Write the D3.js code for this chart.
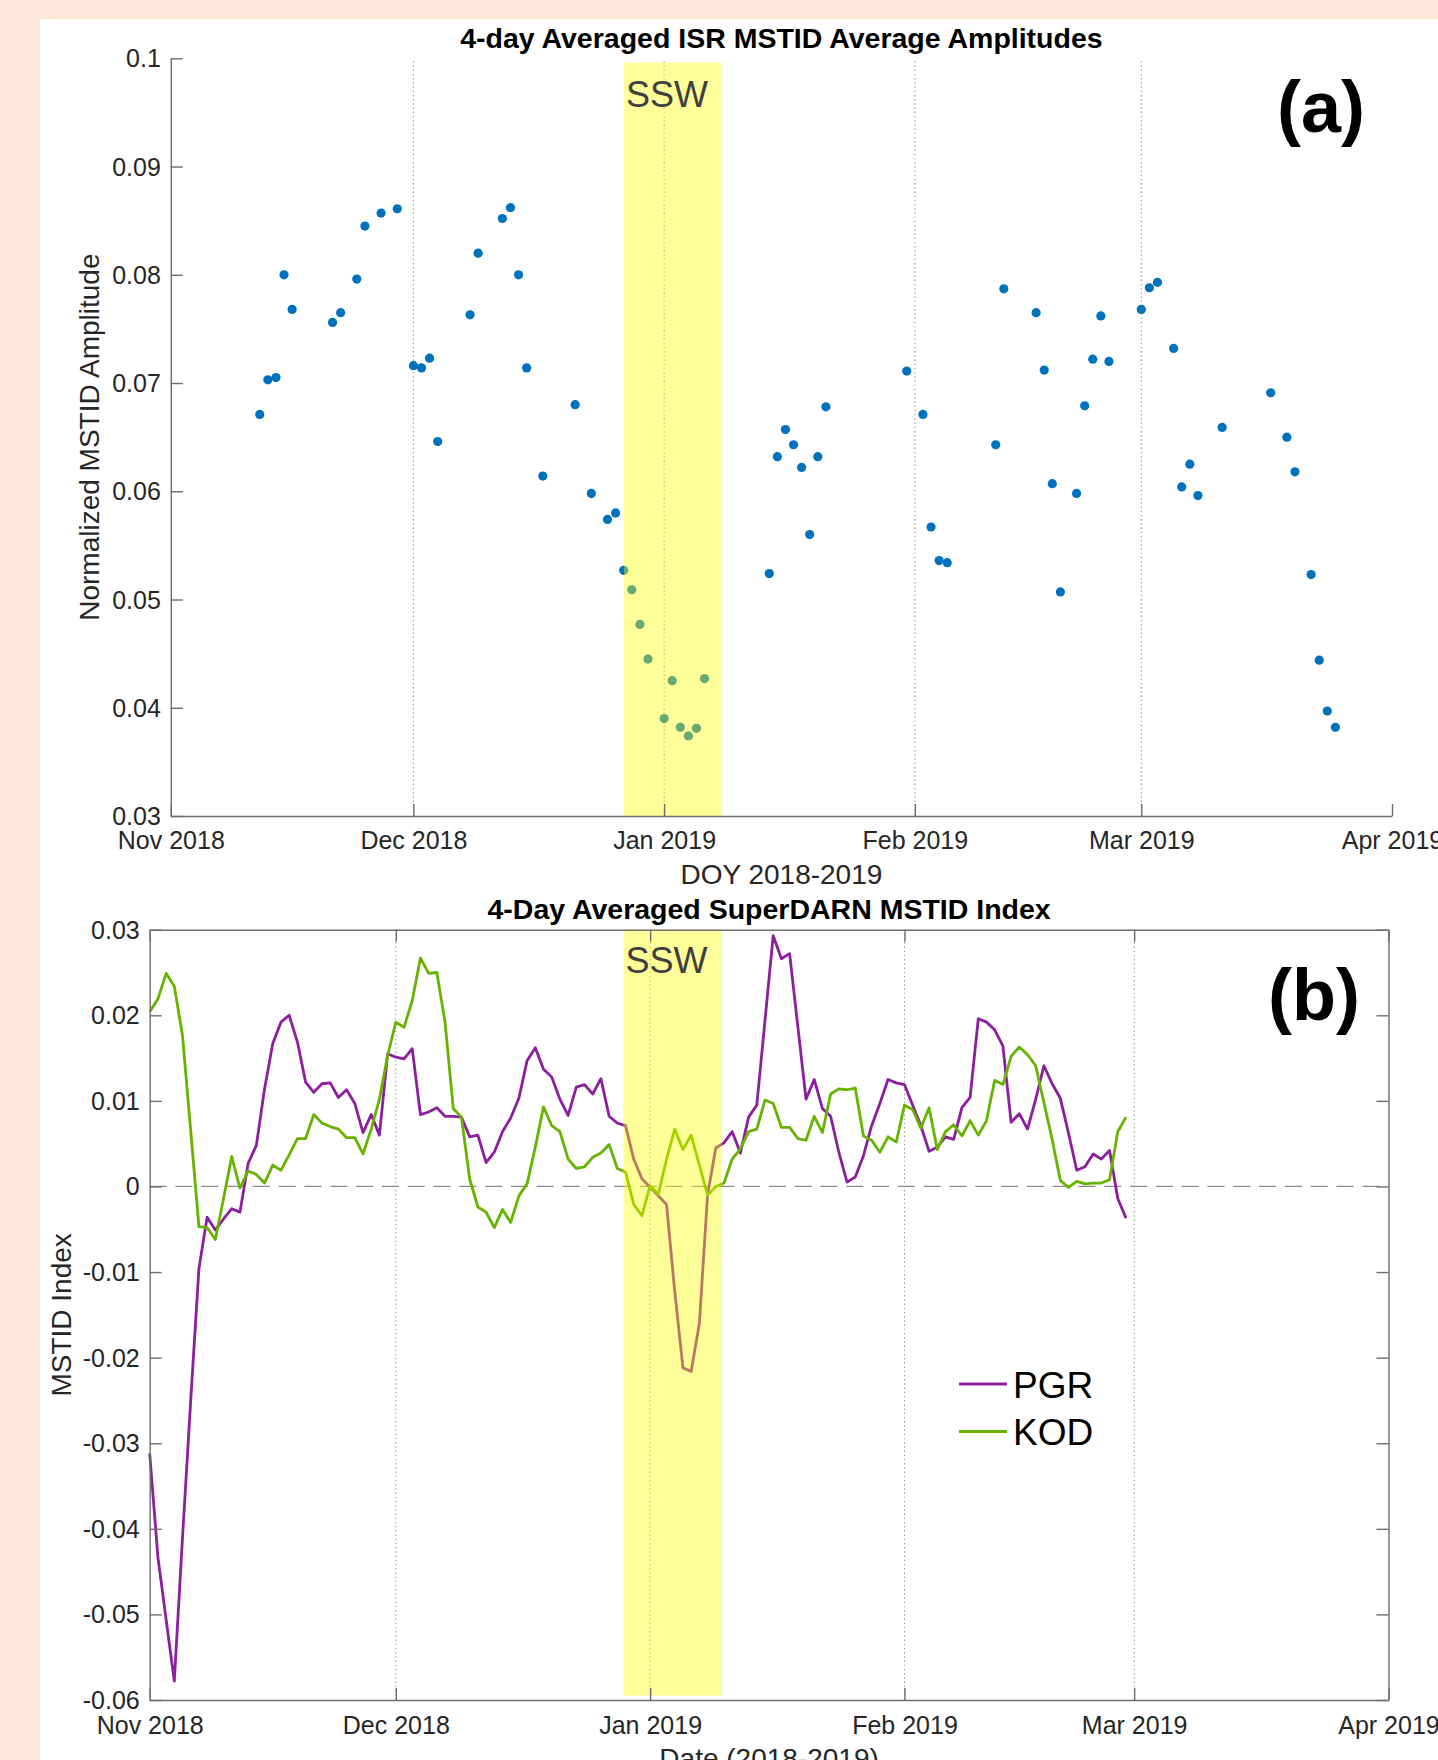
<!DOCTYPE html>
<html>
<head>
<meta charset="utf-8">
<script src="https://cdn.jsdelivr.net/npm/d3@7"></script>
<style>
  body { margin: 0; background: #fde6d8; }
  svg { display: block; font-family: "Liberation Sans", Arial, Helvetica, sans-serif; }
  .tick text { fill: #262626; }
</style>
</head>
<body>
<svg id="fig" width="1438" height="1760"></svg>
<script>
// ---- panel (a): ISR MSTID amplitudes (one dot per day)
const isrDates = [
  "2018-11-12","2018-11-13","2018-11-14","2018-11-15","2018-11-16",
  "2018-11-21","2018-11-22","2018-11-24","2018-11-25","2018-11-27","2018-11-29",
  "2018-12-01","2018-12-02","2018-12-03","2018-12-04","2018-12-08","2018-12-09",
  "2018-12-12","2018-12-13","2018-12-14","2018-12-15","2018-12-17","2018-12-21",
  "2018-12-23","2018-12-25","2018-12-26","2018-12-27","2018-12-28","2018-12-29","2018-12-30",
  "2019-01-01","2019-01-02","2019-01-03","2019-01-04","2019-01-05","2019-01-06",
  "2019-01-14","2019-01-15","2019-01-16","2019-01-17","2019-01-18","2019-01-19","2019-01-20","2019-01-21",
  "2019-01-31","2019-02-02","2019-02-03","2019-02-04","2019-02-05",
  "2019-02-11","2019-02-12","2019-02-16","2019-02-17","2019-02-18","2019-02-19",
  "2019-02-21","2019-02-22","2019-02-23","2019-02-24","2019-02-25",
  "2019-03-01","2019-03-02","2019-03-03","2019-03-05","2019-03-06","2019-03-07","2019-03-08",
  "2019-03-11","2019-03-17","2019-03-19","2019-03-20","2019-03-22","2019-03-23","2019-03-24","2019-03-25"
];
const isrAmp = [
  0.0671,0.0703,0.0705,0.0800,0.0768,
  0.0756,0.0765,0.0796,0.0845,0.0857,0.0861,
  0.0716,0.0714,0.0723,0.0646,0.0763,0.0820,
  0.0852,0.0862,0.0800,0.0714,0.0614,0.0680,
  0.0598,0.0574,0.0580,0.0527,0.0509,0.0477,0.0445,
  0.0390,0.0425,0.0382,0.0374,0.0381,0.0427,
  0.0524,0.0632,0.0657,0.0643,0.0622,0.0560,0.0632,0.0678,
  0.0711,0.0671,0.0567,0.0536,0.0534,
  0.0643,0.0787,0.0765,0.0712,0.0607,0.0507,
  0.0598,0.0679,0.0722,0.0762,0.0720,
  0.0768,0.0788,0.0793,0.0732,0.0604,0.0625,0.0596,
  0.0659,0.0691,0.0650,0.0618,0.0523,0.0444,0.0397,0.0382
];
const isrTicks = [0.03, 0.04, 0.05, 0.06, 0.07, 0.08, 0.09, 0.1];
const sswA = ["2018-12-27T01:00", "2019-01-08T04:00"];

// ---- panel (b): SuperDARN MSTID index, daily from sdStart
const sdStart = "2018-11-01";
const pgr = [
  -0.0312,-0.0433,-0.0506,-0.0578,-0.0410,-0.0250,-0.0096,-0.0036,-0.0051,-0.0038,
  -0.0026,-0.0030,0.0027,0.0048,0.0114,0.0167,0.0192,0.0200,0.0169,0.0122,
  0.0110,0.0120,0.0121,0.0104,0.0113,0.0097,0.0063,0.0084,0.0060,0.0155,
  0.0151,0.0149,0.0161,0.0084,0.0087,0.0092,0.0082,0.0082,0.0081,0.0058,
  0.0060,0.0028,0.0040,0.0064,0.0080,0.0103,0.0147,0.0162,0.0137,0.0128,
  0.0102,0.0083,0.0116,0.0119,0.0108,0.0126,0.0082,0.0074,0.0071,0.0032,
  0.0009,-0.0001,-0.0011,-0.0021,-0.0123,-0.0212,-0.0216,-0.0160,-0.0010,0.0045,
  0.0051,0.0064,0.0039,0.0081,0.0095,0.0194,0.0293,0.0266,0.0272,0.0187,
  0.0102,0.0125,0.0091,0.0082,0.0040,0.0005,0.0011,0.0036,0.0071,0.0097,
  0.0125,0.0121,0.0119,0.0095,0.0071,0.0041,0.0046,0.0058,0.0055,0.0092,
  0.0104,0.0196,0.0192,0.0183,0.0164,0.0075,0.0085,0.0067,0.0102,0.0141,
  0.0120,0.0103,0.0062,0.0019,0.0023,0.0038,0.0032,0.0042,-0.0014,-0.0037
];
const kod = [
  0.0204,0.0219,0.0249,0.0234,0.0176,0.0065,-0.0047,-0.0048,-0.0062,-0.0014,
  0.0035,-0.0002,0.0018,0.0014,0.0004,0.0025,0.0019,0.0037,0.0056,0.0056,
  0.0084,0.0074,0.0070,0.0067,0.0057,0.0057,0.0038,0.0067,0.0102,0.0153,
  0.0192,0.0186,0.0217,0.0267,0.0249,0.0250,0.0192,0.0091,0.0081,0.0009,
  -0.0024,-0.0030,-0.0048,-0.0027,-0.0042,-0.0011,0.0003,0.0046,0.0093,0.0071,
  0.0064,0.0032,0.0021,0.0023,0.0034,0.0039,0.0049,0.0021,0.0017,-0.0021,
  -0.0034,0.0001,-0.0009,0.0032,0.0067,0.0043,0.0060,0.0025,-0.0010,0.0000,
  0.0004,0.0032,0.0044,0.0064,0.0067,0.0101,0.0097,0.0069,0.0069,0.0056,
  0.0054,0.0082,0.0063,0.0108,0.0114,0.0113,0.0115,0.0059,0.0054,0.0040,
  0.0058,0.0052,0.0095,0.0090,0.0068,0.0092,0.0043,0.0064,0.0072,0.0059,
  0.0077,0.0060,0.0077,0.0124,0.0119,0.0152,0.0163,0.0154,0.0141,0.0098,
  0.0055,0.0007,-0.0001,0.0006,0.0003,0.0004,0.0004,0.0008,0.0064,0.0081
];
const sdTicks = [-0.06, -0.05, -0.04, -0.03, -0.02, -0.01, 0, 0.01, 0.02, 0.03];
const sswB = ["2018-12-28T18:00", "2019-01-09T17:30"];
const stations = ["PGR", "KOD"];
const stationColors = ["#8c1f9e", "#66b300"];

const xDomain = [new Date(2018, 10, 1), new Date(2019, 3, 1)];
const parseDay = d3.timeParse("%Y-%m-%d");
const parseHour = d3.timeParse("%Y-%m-%dT%H:%M");
const fmtNum = d => String(+d.toFixed(2));
const monthFmt = d3.timeFormat("%b %Y");

let svg = d3.select('#fig');
svg.append('rect').attr('x', 40).attr('y', 19).attr('width', 1398).attr('height', 1741).attr('fill', '#fff');

function grid(g, x, months, y0, y1) {
    g.selectAll('line.grid')
        .data(months)
        .join('line')
        .attr('class', 'grid')
        .attr('x1', d => x(d)).attr('x2', d => x(d))
        .attr('y1', y0).attr('y2', y1)
        .attr('stroke', '#9a9a9a')
        .attr('stroke-width', 1.1)
        .attr('stroke-dasharray', '1.4,2.8');
}

function styleAxis(g) {
    g.selectAll('.domain').attr('stroke', '#6e6e6e').attr('stroke-width', 1.4);
    g.selectAll('.tick line').attr('stroke', '#6e6e6e').attr('stroke-width', 1.4);
}

const gridMonths = [new Date(2018, 11, 1), new Date(2019, 0, 1), new Date(2019, 1, 1), new Date(2019, 2, 1)];

// ================= panel (a)
let xa = d3.scaleTime().domain(xDomain).range([170.8, 1392]);
let ya = d3.scaleLinear().domain([0.03, 0.1]).range([816, 58.3]);
let pa = svg.append('g').attr('id', 'panelA');

grid(pa, xa, gridMonths, ya(0.1) + 3, ya(0.03));

pa.selectAll('circle')
    .data(isrDates.map((d, i) => ({date: parseDay(d), v: isrAmp[i]})))
    .join('circle')
    .attr('cx', d => xa(d.date))
    .attr('cy', d => ya(d.v))
    .attr('r', 4.6)
    .attr('fill', '#0072bd');

pa.append('rect')
    .attr('x', xa(parseHour(sswA[0])))
    .attr('width', xa(parseHour(sswA[1])) - xa(parseHour(sswA[0])))
    .attr('y', ya(0.0996))
    .attr('height', ya(0.03) - ya(0.0996))
    .attr('fill', '#ffff00')
    .attr('fill-opacity', 0.4);

pa.append('text')
    .attr('x', xa(parseHour(sswA[0])) + 2).attr('y', 107)
    .attr('font-size', 36).attr('fill', '#404040')
    .text('SSW');

let axA = pa.append('g')
    .attr('transform', 'translate(0,' + ya(0.03) + ')')
    .call(d3.axisBottom(xa).ticks(d3.timeMonth.every(1)).tickFormat(monthFmt)
        .tickSizeInner(-12).tickSizeOuter(0).tickPadding(15));
axA.selectAll('text').attr('font-size', 25);
styleAxis(axA);

let ayA = pa.append('g')
    .attr('transform', 'translate(' + xa(xDomain[0]) + ',0)')
    .call(d3.axisLeft(ya).tickValues(isrTicks).tickFormat(fmtNum)
        .tickSizeInner(-12).tickSizeOuter(0).tickPadding(10));
ayA.selectAll('text').attr('font-size', 25).attr('dy', '0.34em');
styleAxis(ayA);

pa.append('text')
    .attr('x', (170.8 + 1392) / 2).attr('y', 48)
    .attr('text-anchor', 'middle').attr('font-size', 28.5).attr('font-weight', 'bold')
    .text('4-day Averaged ISR MSTID Average Amplitudes');
pa.append('text')
    .attr('x', (170.8 + 1392) / 2).attr('y', 884)
    .attr('text-anchor', 'middle').attr('font-size', 28).attr('fill', '#262626')
    .text('DOY 2018-2019');
pa.append('text')
    .attr('transform', 'translate(99,' + (ya(0.03) + ya(0.1)) / 2 + ') rotate(-90)')
    .attr('text-anchor', 'middle').attr('font-size', 28).attr('fill', '#262626')
    .text('Normalized MSTID Amplitude');
pa.append('text')
    .attr('x', 1277).attr('y', 132)
    .attr('font-size', 72).attr('font-weight', 'bold')
    .text('(a)');

// ================= panel (b)
let xb = d3.scaleTime().domain(xDomain).range([149.7, 1388.5]);
let yb = d3.scaleLinear().domain([-0.06, 0.03]).range([1700, 929.7]);
let pb = svg.append('g').attr('id', 'panelB');
let t0 = parseDay(sdStart);

grid(pb, xb, gridMonths, yb(0.03), yb(-0.06));

pb.append('line')
    .attr('x1', xb.range()[0]).attr('x2', xb.range()[1])
    .attr('y1', yb(0)).attr('y2', yb(0))
    .attr('stroke', '#8a8a8a').attr('stroke-width', 1.3)
    .attr('stroke-dasharray', '17,8.8');

let line = d3.line()
    .x((d, i) => xb(d3.timeDay.offset(t0, i)))
    .y(d => yb(d));

[pgr, kod].forEach((series, k) => {
    pb.append('path')
        .datum(series)
        .attr('fill', 'none')
        .attr('stroke', stationColors[k])
        .attr('stroke-width', 2.8)
        .attr('stroke-linejoin', 'round')
        .attr('d', line);
});

pb.append('rect')
    .attr('x', xb(parseHour(sswB[0])))
    .attr('width', xb(parseHour(sswB[1])) - xb(parseHour(sswB[0])))
    .attr('y', yb(0.0299))
    .attr('height', yb(-0.0595) - yb(0.0299))
    .attr('fill', '#ffff00')
    .attr('fill-opacity', 0.4);

pb.append('text')
    .attr('x', xb(parseHour(sswB[0])) + 2).attr('y', 973)
    .attr('font-size', 36).attr('fill', '#404040')
    .text('SSW');

// box with ticks on all four sides
let axB = pb.append('g')
    .attr('transform', 'translate(0,' + yb(-0.06) + ')')
    .call(d3.axisBottom(xb).ticks(d3.timeMonth.every(1)).tickFormat(monthFmt)
        .tickSizeInner(-12).tickSizeOuter(0).tickPadding(16));
axB.selectAll('text').attr('font-size', 25);
styleAxis(axB);

let axBt = pb.append('g')
    .attr('transform', 'translate(0,' + yb(0.03) + ')')
    .call(d3.axisTop(xb).ticks(d3.timeMonth.every(1)).tickFormat('')
        .tickSizeInner(-12).tickSizeOuter(0));
styleAxis(axBt);

let ayB = pb.append('g')
    .attr('transform', 'translate(' + xb.range()[0] + ',0)')
    .call(d3.axisLeft(yb).tickValues(sdTicks).tickFormat(fmtNum)
        .tickSizeInner(-12).tickSizeOuter(0).tickPadding(10));
ayB.selectAll('text').attr('font-size', 25).attr('dy', '0.34em');
styleAxis(ayB);

let ayBr = pb.append('g')
    .attr('transform', 'translate(' + xb.range()[1] + ',0)')
    .call(d3.axisRight(yb).tickValues(sdTicks).tickFormat('')
        .tickSizeInner(-12).tickSizeOuter(0));
styleAxis(ayBr);

// legend, no frame
let leg = pb.append('g').attr('transform', 'translate(959,1384)');
stations.forEach((s, k) => {
    leg.append('line')
        .attr('x1', 0).attr('x2', 48)
        .attr('y1', k * 47.5).attr('y2', k * 47.5)
        .attr('stroke', stationColors[k]).attr('stroke-width', 2.8);
    leg.append('text')
        .attr('x', 54).attr('y', k * 47.5 + 13.5)
        .attr('font-size', 37).attr('fill', '#000')
        .text(s);
});

pb.append('text')
    .attr('x', (149.7 + 1388.5) / 2).attr('y', 919)
    .attr('text-anchor', 'middle').attr('font-size', 28.5).attr('font-weight', 'bold')
    .text('4-Day Averaged SuperDARN MSTID Index');
pb.append('text')
    .attr('x', (149.7 + 1388.5) / 2).attr('y', 1768)
    .attr('text-anchor', 'middle').attr('font-size', 28).attr('fill', '#262626')
    .text('Date (2018-2019)');
pb.append('text')
    .attr('transform', 'translate(71,' + (yb(-0.06) + yb(0.03)) / 2 + ') rotate(-90)')
    .attr('text-anchor', 'middle').attr('font-size', 28).attr('fill', '#262626')
    .text('MSTID Index');
pb.append('text')
    .attr('x', 1268).attr('y', 1020)
    .attr('font-size', 72).attr('font-weight', 'bold')
    .text('(b)');
</script>
</body>
</html>
